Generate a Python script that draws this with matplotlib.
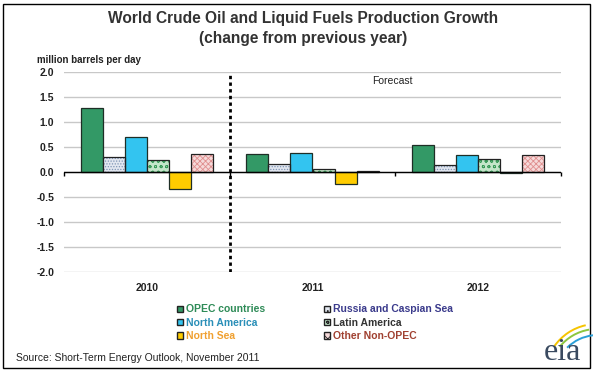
import matplotlib
matplotlib.use("Agg")
import matplotlib.pyplot as plt
import numpy as np
from matplotlib.patches import Rectangle, Patch, Arc

plt.rcParams['font.family'] = ['Liberation Sans', 'DejaVu Sans']
plt.rcParams['hatch.linewidth'] = 0.6

years = ["2010", "2011", "2012"]
series = ["OPEC countries", "Russia and Caspian Sea", "North America",
          "Latin America", "North Sea", "Other Non-OPEC"]
opec = [1.28, 0.37, 0.54]
russia = [0.30, 0.16, 0.14]
north_america = [0.70, 0.38, 0.34]
latin_america = [0.24, 0.06, 0.26]
north_sea = [-0.34, -0.24, -0.02]
other_non_opec = [0.36, 0.02, 0.34]
values = [opec, russia, north_america, latin_america, north_sea, other_non_opec]
yticks = [-2.0, -1.5, -1.0, -0.5, 0.0, 0.5, 1.0, 1.5, 2.0]

faces = ["#339966", "#e2e7f0", "#33c4f0", "#c4e6ca", "#ffcc00", "#f6dada"]
hatches = [None, "......", None, "ooo", None, "xxxxxx"]
hatch_cols = [None, "#7f95b5", None, "#3a9a5a", None, "#e09090"]
text_cols = ["#2e8b57", "#3b3b8c", "#2a8fb8", "#333333", "#f0a030", "#a04030"]

fig = plt.figure(figsize=(5.93, 3.75), dpi=100)
ax = fig.add_axes([64/593, 1-272/375, (561-64)/593, 200/375])

n = len(series)
w = 0.133
x = np.arange(len(years))
for i, (name, vals) in enumerate(zip(series, values)):
    pos = x + (i - (n-1)/2) * w
    if hatches[i]:
        ax.bar(pos, vals, w, color=faces[i], edgecolor=hatch_cols[i],
               hatch=hatches[i], linewidth=0, zorder=3)
        ax.bar(pos, vals, w, fill=False, edgecolor="#222222", linewidth=0.9, zorder=4)
    else:
        ax.bar(pos, vals, w, color=faces[i], edgecolor="#1e2e26", linewidth=0.9, zorder=3)

ax.set_xlim(-0.5, len(years) - 0.5)
ax.set_ylim(-2.0, 2.0)
ax.set_yticks(yticks)
ax.set_yticklabels([f"{v:.1f}" for v in yticks], fontsize=7.5, fontweight="bold", color="#222222")
ax.set_xticks(x)
ax.set_xticklabels(years, fontsize=7.5, fontweight="bold", color="#222222")
ax.tick_params(axis="both", length=0)
ax.tick_params(axis="x", pad=8)
ax.tick_params(axis="y", pad=7)
for s in ax.spines.values():
    s.set_visible(False)
ax.yaxis.grid(True, color="#c8c8c8", linewidth=1.0, zorder=0)
ax.set_axisbelow(True)
ax.axhline(0, color="black", linewidth=1.0, zorder=5)
bounds = np.arange(len(years) + 1) - 0.5
ax.vlines(bounds, -0.07, 0, color="black", linewidth=1.0, zorder=5, clip_on=False)
ax.axvline(0.5, color="black", linestyle=(0, (1.2, 1.2)), linewidth=2.0, zorder=5)
ax.text(1.36, 1.83, "Forecast", fontsize=7.5, color="#222222", ha="left", va="center")

fig.text(303/593, 1-18/375, "World Crude Oil and Liquid Fuels Production Growth",
         ha="center", va="center", fontsize=11.2, color="#333333", fontweight="bold")
fig.text(303/593, 1-39/375, "(change from previous year)",
         ha="center", va="center", fontsize=11.2, color="#333333", fontweight="bold")
fig.text(37/593, 1-60/375, "million barrels per day", fontsize=7, fontweight="bold",
         color="#222222", ha="left", va="center")
fig.text(16/593, 1-358/375, "Source: Short-Term Energy Outlook, November 2011",
         fontsize=7.5, color="#222222", ha="left", va="center")

handles = []
order = [0, 2, 4, 1, 3, 5]
for i in order:
    if hatches[i]:
        handles.append(Patch(facecolor=faces[i], edgecolor="#222222", hatch=hatches[i][:3], linewidth=1.0))
    else:
        handles.append(Patch(facecolor=faces[i], edgecolor="#222222", linewidth=1.0))
leg = fig.legend(handles, [series[i] for i in order], ncol=2, loc="upper left",
                 bbox_to_anchor=(177/593, 1-304.5/375), frameon=False,
                 prop={"size": 7.5, "weight": "bold"}, handlelength=0.6,
                 handleheight=0.6, handletextpad=0.3, columnspacing=5.6,
                 labelspacing=0.32, borderpad=0, borderaxespad=0)
for t, i in zip(leg.get_texts(), order):
    t.set_color(text_cols[i])

# frame around the figure
fig.patches.append(Rectangle((2.5/593, 1-368/375), 587.5/593, 364/375, transform=fig.transFigure,
                             fill=False, edgecolor="black", linewidth=1.0))

# eia logo
fig.text(562/593, 1-352/375, "eia", fontsize=23, family="Liberation Serif",
         color="#3a4a60", ha="center", va="center")
for (cx, cy, r, t1, t2, c) in [(597, 376, 52, 98, 132, "#f5c400"),
                               (597, 377, 48, 96, 128, "#8cc63f"),
                               (598, 379, 44, 94, 122, "#2a9fd8")]:
    fig.patches.append(Arc((cx/593, 1-cy/375), 2*r/593, 2*r/375,
                           theta1=t1, theta2=t2, transform=fig.transFigure,
                           color=c, linewidth=1.4))

fig.savefig("out.png", dpi=100)
